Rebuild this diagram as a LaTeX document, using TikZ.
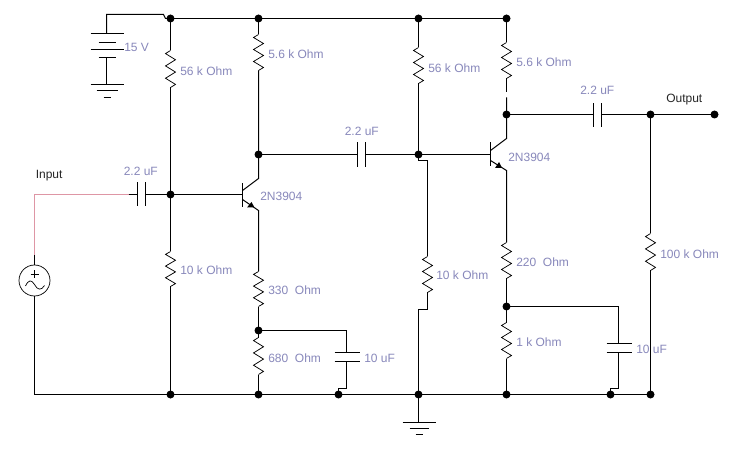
\documentclass[tikz,border=0pt]{standalone}
\usepackage{fontspec}
\setmainfont{Liberation Sans}
\usetikzlibrary{calc}
\definecolor{lbl}{RGB}{136,136,187}
\definecolor{inwire}{RGB}{222,150,165}
\newcommand\resist[2]{\draw[line width=.75pt] ($(#1)$) -- ($(#1)!.083!(#2)+(-5,0)$) -- ($(#1)!.25!(#2)+(5,0)$) -- ($(#1)!.417!(#2)+(-5,0)$) -- ($(#1)!.583!(#2)+(5,0)$) -- ($(#1)!.75!(#2)+(-5,0)$) -- ($(#1)!.917!(#2)+(5,0)$) -- ($(#2)$);}
\tikzset{
  x=1pt,y=-1pt,
  wire/.style={line width=1pt,line join=miter},
  plate/.style={line width=1pt},
  jdot/.style={circle,fill=black,draw=none,inner sep=0pt,minimum size=8pt},
  val/.style={anchor=west,inner sep=0pt,xshift=-0.7pt,text=lbl,font=\fontsize{12}{14}\selectfont},
  tag/.style={anchor=west,inner sep=0pt,xshift=-0.7pt,text=black!85,font=\fontsize{12}{14}\selectfont},
}
\begin{document}
\begin{tikzpicture}[line width=1pt]
\useasboundingbox (0,0) rectangle (734,449);
\fill[white] (0,0) rectangle (734,449);
\begin{scope}[shift={(0.5,0.5)}]
% junctions
\foreach \n/\x/\y in {t1/170/18,t2/258/18,t3/418/18,t4/506/18,
  b1/170/194,c1/258/154,e1/258/330,b2/418/154,c2/506/114,e2/506/306,
  o1/650/114,o2/714/114,
  g1/170/394,g2/258/394,g3/338/394,g4/418/394,g5/506/394,g6/610/394,g7/650/394}
  {\node[jdot] (\n) at (\x,\y) {};}
% coordinates
\foreach \n/\x/\y in {
  batA/106/14,batB/163/14,batC/165/18,batT/106/33,batM/106/57,batG/106/84,
  r1t/170/50,r1b/170/87,r2t/170/251,r2b/170/286,
  r3t/258/34,r3b/258/70,r4t/258/271,r4b/258/306,r5t/258/337,r5b/258/374,
  r6t/418/47,r6b/418/83,r7t/427/256,r7b/427/292,
  r8t/506/42,r8b/506/78,r9t/506/242,r9b/506/278,r10t/506/322,r10b/506/358,
  r11t/650/233,r11b/650/270,
  gap1/506/92,gap2/506/97,
  step1/418/160,step2/427/160,step3/427/309,step4/418/309,
  q1b/242/194,q1c/242/190,q1cc/258/178,q1e/242/199,q1ee/258/210,
  q2b/490/154,q2c/490/150,q2cc/506/138,q2e/490/160,q2ee/506/170,
  in0/34/255,in1/34/194,in2/128/194,cin1/137/194,cin2/145/194,
  src1/34/264.5,src2/34/295.5,srcb/34/394,
  c2a/357/154,c2b/365/154,c3a/593/114,c3b/601/114,
  ce1a/346/330,ce1t/346/352,ce1m/346/361,ce1k/346/388,ce1j/338/388,
  ce2a/618/306,ce2t/618/343,ce2m/618/352,ce2k/618/388,ce2j/610/388,
  gnd/418/422}
  {\coordinate (\n) at (\x,\y);}
% battery
\draw[wire] (t1.center) -- (batC) -- (batB) -- (batA) -- (batT);
\draw[wire] (batM) -- (batG);
\draw[plate] (90,33) -- (123,33);
\draw[plate] (98,42) -- (115,42);
\draw[plate] (90,49) -- (123,49);
\draw[plate] (98,57) -- (115,57);
\draw[plate] (90,84) -- (123,84);
\draw[plate] (96,90) -- (117,90);
\draw[plate] (103,97) -- (110,97);
% rails
\draw[wire] (t1.center) -- (t2.center) -- (t3.center) -- (t4.center);
\draw[wire] (srcb) -- (g1.center) -- (g2.center) -- (g3.center) -- (g4.center) -- (g5.center) -- (g6.center) -- (g7.center);
% first stage
\draw[wire] (t1.center) -- (r1t); \resist{r1t}{r1b} \draw[wire] (r1b) -- (b1.center) -- (r2t);
\resist{r2t}{r2b} \draw[wire] (r2b) -- (g1.center);
\draw[wire] (t2.center) -- (r3t); \resist{r3t}{r3b} \draw[wire] (r3b) -- (c1.center) -- (q1cc) -- (q1c);
\draw[wire] (b1.center) -- (q1b);
\draw[plate] (242,183) -- (242,207);
\draw[wire] (q1e) -- (q1ee) -- (r4t);
\fill (251,201.5) -- (254,207) -- (246.5,207) -- cycle;
\resist{r4t}{r4b} \draw[wire] (r4b) -- (e1.center) -- (r5t);
\resist{r5t}{r5b} \draw[wire] (r5b) -- (g2.center);
\draw[wire] (e1.center) -- (ce1a) -- (ce1t);
\draw[plate] (334,352) -- (359,352);
\draw[plate] (334,361) -- (359,361);
\draw[wire] (ce1m) -- (ce1k) -- (ce1j) -- (g3.center);
% input
\draw[line width=1pt,inwire] (in0) -- (in1) -- (in2);
\draw[wire] (in2) -- (cin1);
\draw[plate] (137,182) -- (137,206);
\draw[plate] (145,182) -- (145,206);
\draw[wire] (cin2) -- (b1.center);
\draw[wire] (in0) -- (src1);
\draw[wire] (src2) -- (srcb);
\draw[line width=.7pt] (34,280) circle (15.5);
\draw[line width=.7pt] (30,273.7) -- (38,273.7) (34,269.7) -- (34,277.7);
\draw[line width=.7pt] (25,285.5) .. controls (28,279) and (31,279) .. (34,284) .. controls (37,290) and (41,290) .. (44,285);
% coupling
\draw[wire] (c1.center) -- (c2a);
\draw[plate] (357,142) -- (357,167);
\draw[plate] (365,142) -- (365,167);
\draw[wire] (c2b) -- (b2.center);
% second stage
\draw[wire] (t3.center) -- (r6t); \resist{r6t}{r6b} \draw[wire] (r6b) -- (b2.center);
\draw[wire] (b2.center) -- (step1) -- (step2) -- (r7t);
\resist{r7t}{r7b} \draw[wire] (r7b) -- (step3) -- (step4) -- (g4.center);
\draw[wire] (g4.center) -- (gnd);
\draw[plate] (402,422) -- (435,422);
\draw[plate] (409,427.5) -- (428,427.5);
\draw[plate] (415,434) -- (422,434);
\draw[wire] (b2.center) -- (q2b);
\draw[plate] (490,142) -- (490,166);
\draw[wire] (t4.center) -- (r8t); \resist{r8t}{r8b} \draw[wire] (r8b) -- (gap1);
\draw[wire] (gap2) -- (c2.center) -- (q2cc) -- (q2c);
\draw[wire] (q2e) -- (q2ee) -- (r9t);
\fill (498.5,161.5) -- (501.5,167.5) -- (494.5,167.5) -- cycle;
\resist{r9t}{r9b} \draw[wire] (r9b) -- (e2.center) -- (r10t);
\resist{r10t}{r10b} \draw[wire] (r10b) -- (g5.center);
\draw[wire] (e2.center) -- (ce2a) -- (ce2t);
\draw[plate] (606,343) -- (631,343);
\draw[plate] (606,352) -- (631,352);
\draw[wire] (ce2m) -- (ce2k) -- (ce2j) -- (g6.center);
% output
\draw[wire] (c2.center) -- (c3a);
\draw[plate] (593,103) -- (593,127);
\draw[plate] (601,103) -- (601,127);
\draw[wire] (c3b) -- (o1.center) -- (o2.center);
\draw[wire] (o1.center) -- (r11t); \resist{r11t}{r11b} \draw[wire] (r11b) -- (g7.center);
% labels
\node[val] (l1) at (124,46.5) {15 V};
\node[val] (l2) at (180,70.5) {56 k Ohm};
\node[val] (l3) at (268,53.5) {5.6 k Ohm};
\node[val] (l4) at (123.5,170.5) {2.2 uF};
\node[tag] (l5) at (35.5,175) {Input};
\node[val] (l6) at (260,195.5) {2N3904};
\node[val] (l7) at (180,269.5) {10 k Ohm};
\node[val] (l8) at (268,290) {330\ \ Ohm};
\node[val] (l9) at (268,358) {680\ \ Ohm};
\node[val] (l10) at (364,358) {10 uF};
\node[val] (l11) at (344.5,130.5) {2.2 uF};
\node[val] (l12) at (428,67.5) {56 k Ohm};
\node[val] (l13) at (516,62) {5.6 k Ohm};
\node[val] (l14) at (580,90) {2.2 uF};
\node[tag] (l15) at (666,99.5) {Output};
\node[val] (l16) at (508,156.5) {2N3904};
\node[val] (l17) at (436,275) {10 k Ohm};
\node[val] (l18) at (516,262) {220\ \ Ohm};
\node[val] (l19) at (516,342) {1 k Ohm};
\node[val] (l20) at (636,349) {10 uF};
\node[val] (l21) at (660,254) {100 k Ohm};
\end{scope}
\end{tikzpicture}
\end{document}
